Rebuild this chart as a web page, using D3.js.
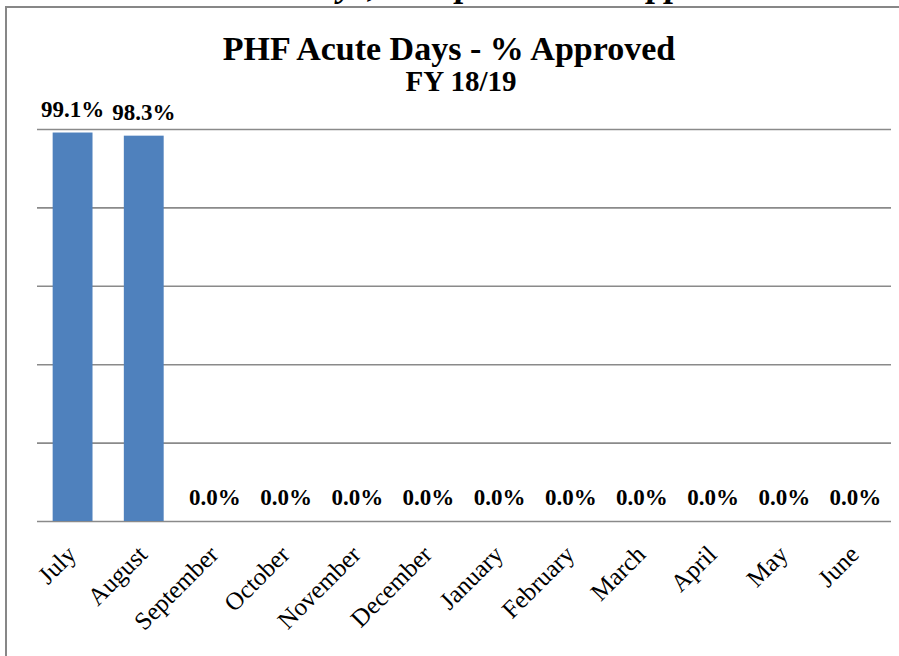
<!DOCTYPE html>
<html>
<head>
<meta charset="utf-8">
<script src="https://cdnjs.cloudflare.com/ajax/libs/d3/7.8.5/d3.min.js"></script>
<style>
  html, body { margin: 0; padding: 0; background: #fff; }
  svg { display: block; }
</style>
</head>
<body>
<div id="chart"></div>
<script>
// ---- data ----
const months = ["July", "August", "September", "October", "November", "December",
                "January", "February", "March", "April", "May", "June"];
const pctApproved = [0.991, 0.983, 0, 0, 0, 0, 0, 0, 0, 0, 0, 0];
const yTicks = [0, 0.2, 0.4, 0.6, 0.8, 1.0];
const titleText = "PHF Acute Days - % Approved";
const subtitleText = "FY 18/19";
const pageHeadingText = "PHF Acute Days, Compared to % Approved";

// ---- layout ----
const W = 899, H = 656;
const plot = { left: 37, right: 891, top: 129, bottom: 521 };
const serif = "'Liberation Serif', 'Times New Roman', serif";

const svg = d3.select("#chart").append("svg")
  .attr("width", W).attr("height", H);

svg.append("rect").attr("width", W).attr("height", H).attr("fill", "#fff");

// cut-off heading from the page above (only descenders visible)
svg.append("text")
  .attr("x", 118).attr("y", -4)
  .style("font-family", serif).style("font-size", "36px")
  .style("font-weight", "bold").style("font-style", "italic")
  .attr("fill", "#000")
  .text(pageHeadingText);

// chart border
svg.append("rect")
  .attr("x", 6).attr("y", 7).attr("width", 1000).attr("height", 1000)
  .attr("fill", "none").attr("stroke", "#878787").attr("stroke-width", 2);

const x = d3.scaleBand().domain(months)
  .range([plot.left, plot.right]).paddingInner(0.44).paddingOuter(0.22);
const y = d3.scaleLinear().domain([0, 1]).range([plot.bottom, plot.top]);

// gridlines
const yAxis = d3.axisLeft(y).tickValues(yTicks)
  .tickSize(-(plot.right - plot.left)).tickFormat("");
const gy = svg.append("g").attr("transform", `translate(${plot.left},0)`).call(yAxis);
gy.select(".domain").remove();
gy.selectAll(".tick line").attr("stroke", "#8a8a8a").attr("stroke-width", 1.6);

// bars
svg.append("g").selectAll("rect").data(months).join("rect")
  .attr("x", d => x(d))
  .attr("width", x.bandwidth())
  .attr("y", (d, i) => y(pctApproved[i]))
  .attr("height", (d, i) => y(0) - y(pctApproved[i]))
  .attr("fill", "#4f81bd");

// data labels
const fmt = d3.format(".1%");
svg.append("g").selectAll("text").data(months).join("text")
  .attr("x", d => x(d) + x.bandwidth() / 2)
  .attr("y", (d, i) => y(pctApproved[i]) - 16)
  .attr("text-anchor", "middle")
  .style("font-family", serif).style("font-size", "23px").style("font-weight", "bold")
  .attr("fill", "#000")
  .text((d, i) => fmt(pctApproved[i]));

// x axis labels (rotated)
const xAxis = d3.axisBottom(x).tickSize(0).tickPadding(0);
const gx = svg.append("g").attr("transform", `translate(0,${plot.bottom})`).call(xAxis);
gx.select(".domain").remove();
gx.attr("font-size", null).attr("font-family", null);
gx.selectAll(".tick text")
  .style("font-family", serif).style("font-size", "25px").attr("fill", "#000")
  .attr("text-anchor", "end")
  .attr("dy", null).attr("y", 0).attr("x", 0)
  .attr("transform", "translate(5,35) rotate(-45)");

// titles
svg.append("text")
  .attr("x", 449).attr("y", 60).attr("text-anchor", "middle")
  .style("font-family", serif).style("font-size", "34px").style("font-weight", "bold")
  .attr("fill", "#000").text(titleText);
svg.append("text")
  .attr("x", 461).attr("y", 91).attr("text-anchor", "middle")
  .style("font-family", serif).style("font-size", "29px").style("font-weight", "bold")
  .attr("fill", "#000").text(subtitleText);
</script>
</body>
</html>
